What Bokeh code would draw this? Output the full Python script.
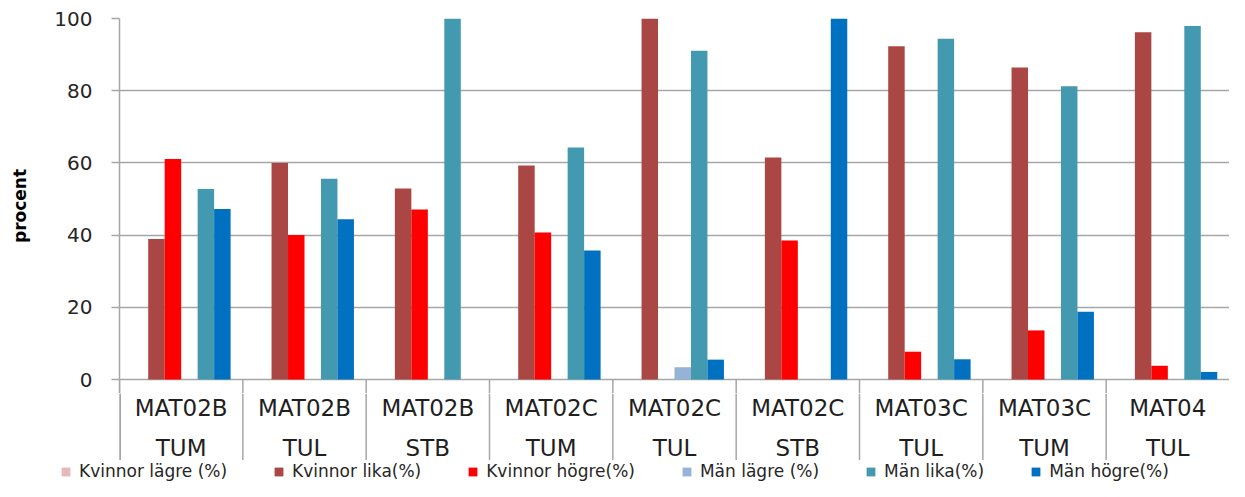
from bokeh.plotting import figure
from bokeh.models import ColumnDataSource, FactorRange, Range1d, FixedTicker, Legend, LegendItem
from bokeh.transform import dodge
from bokeh.core.properties import value
from bokeh.layouts import column
from bokeh.embed import file_html
from bokeh.resources import INLINE

# ---- data ----
courses = ["MAT02B", "MAT02B", "MAT02B", "MAT02C", "MAT02C", "MAT02C", "MAT03C", "MAT03C", "MAT04"]
schools = ["TUM", "TUL", "STB", "TUM", "TUL", "STB", "TUL", "TUM", "TUL"]
kvinnor_lagre = [0, 0, 0, 0, 0, 0, 0, 0, 0]
kvinnor_lika = [38.9, 60.0, 52.9, 59.3, 100.0, 61.5, 92.3, 86.4, 96.2]
kvinnor_hogre = [61.1, 40.0, 47.1, 40.7, 0.0, 38.5, 7.7, 13.6, 3.8]
man_lagre = [0, 0, 0, 0, 3.4, 0, 0, 0, 0]
man_lika = [52.8, 55.6, 100.0, 64.3, 91.1, 0.0, 94.4, 81.2, 97.9]
man_hogre = [47.2, 44.4, 0.0, 35.7, 5.5, 100.0, 5.6, 18.8, 2.1]
yticks = [0, 20, 40, 60, 80, 100]

series = [
    ("Kvinnor lägre (%)", "kl", kvinnor_lagre, "#E6B9B8"),
    ("Kvinnor lika(%)", "ki", kvinnor_lika, "#AA4643"),
    ("Kvinnor högre(%)", "kh", kvinnor_hogre, "#FF0000"),
    ("Män lägre (%)", "ml", man_lagre, "#95B3D7"),
    ("Män lika(%)", "mi", man_lika, "#4399B0"),
    ("Män högre(%)", "mh", man_hogre, "#0070C0"),
]

keys = [f"{c} {s}" for c, s in zip(courses, schools)]
data = dict(key=keys, course=courses, school=schools)
for _, col, vals, _ in series:
    data[col] = vals
src = ColumnDataSource(data)

W = 1229
LEFT = 119
TOP = 18
MAIN_H = 393          # frame from 18 px down to 393 px
CAT_H = 67            # category label band (to 460 px)
LEG_H = 481 - MAIN_H - CAT_H
px_per_unit = 3.61
y_start = 100 - (MAIN_H - TOP) / px_per_unit

grey = "#A6A6A6"
txt = "#1f1f1f"

xr = FactorRange(factors=keys, range_padding=0)
bw = 0.1336

# ---------- main plot ----------
p = figure(width=W, height=MAIN_H, x_range=xr, y_range=Range1d(y_start, 100),
           output_backend="svg", toolbar_location=None, x_axis_location=None,
           min_border_left=LEFT, min_border_right=0, min_border_top=TOP,
           min_border_bottom=0)
p.outline_line_color = None

p.yaxis.ticker = FixedTicker(ticks=yticks)
p.yaxis.axis_line_color = grey
p.yaxis.axis_line_width = 1.5
p.yaxis.major_tick_out = 8
p.yaxis.major_tick_in = 0
p.yaxis.minor_tick_out = 0
p.yaxis.minor_tick_in = 0
p.yaxis.major_tick_line_color = grey
p.yaxis.major_tick_line_width = 1.5
p.yaxis.major_label_text_font = "DejaVu Sans"
p.yaxis.major_label_text_font_size = "20px"
p.yaxis.major_label_text_color = "#262626"
p.yaxis.major_label_standoff = 19
p.yaxis.axis_label = "procent"
p.yaxis.axis_label_text_font = "DejaVu Sans"
p.yaxis.axis_label_text_font_style = "bold"
p.yaxis.axis_label_text_font_size = "17px"
p.yaxis.axis_label_text_color = "#000000"
p.yaxis.axis_label_standoff = 21

p.ygrid.ticker = FixedTicker(ticks=yticks)
p.ygrid.grid_line_color = grey
p.ygrid.grid_line_width = 1.5
p.xgrid.visible = False

for i, (label, col, vals, color) in enumerate(series):
    off = (i - 2.5) * bw
    p.vbar(x=dodge("key", off, range=xr), top=col, bottom=0, width=bw,
           source=src, fill_color=color, line_color=None)

# divider stubs below zero line
p.segment(x0=dodge("key", -0.5, range=xr), y0=0,
          x1=dodge("key", -0.5, range=xr), y1=y_start,
          source=src, line_color=grey, line_width=1.5)

# ---------- category label band ----------
pc = figure(width=W, height=CAT_H, x_range=xr, y_range=Range1d(CAT_H, 0),
            output_backend="svg", toolbar_location=None,
            x_axis_location=None, y_axis_location=None,
            min_border_left=LEFT, min_border_right=0, min_border_top=0,
            min_border_bottom=0)
pc.outline_line_color = None
pc.grid.visible = False
pc.segment(x0=dodge("key", -0.5, range=xr), y0=0,
           x1=dodge("key", -0.5, range=xr), y1=CAT_H,
           source=src, line_color=grey, line_width=1.5)
pc.segment(x0=dodge("key", -0.5, range=xr), y0=0,
           x1=dodge("key", -0.5, range=xr), y1=CAT_H,
           source=ColumnDataSource(dict(key=[keys[0]])), line_color=grey, line_width=3)
pc.text(x="key", y=14, text="course", source=src, text_align="center",
        text_baseline="middle", text_font=value("DejaVu Sans"),
        text_font_size="23px", text_color=txt)
pc.text(x="key", y=54, text="school", source=src, text_align="center",
        text_baseline="middle", text_font=value("DejaVu Sans"),
        text_font_size="23px", text_color=txt)

# ---------- legend band ----------
pl = figure(width=W, height=LEG_H, x_range=xr, y_range=Range1d(-500, -499),
            output_backend="svg", toolbar_location=None,
            x_axis_location=None, y_axis_location=None,
            min_border_left=0, min_border_right=0, min_border_top=0,
            min_border_bottom=0)
pl.frame_align = False
pl.outline_line_color = None
pl.grid.visible = False
items = []
for i, (label, col, vals, color) in enumerate(series):
    # zero-width copies far outside this band's range: only used for legend swatches
    r = pl.vbar(x="key", top=col, bottom=col, width=0,
                source=src, fill_color=color, line_color=None)
    items.append(LegendItem(label=label, renderers=[r]))
legend = Legend(items=items, orientation="horizontal", location=(60, 0),
                glyph_width=11, glyph_height=11, label_standoff=8, spacing=46,
                padding=0, margin=0, border_line_color=None,
                background_fill_alpha=0, label_height=16,
                label_text_font="DejaVu Sans", label_text_font_size="17px",
                label_text_color="#262626")
pl.add_layout(legend)

layout = column(p, pc, pl, spacing=0)
open("out.html", "w").write(file_html(layout, INLINE))
